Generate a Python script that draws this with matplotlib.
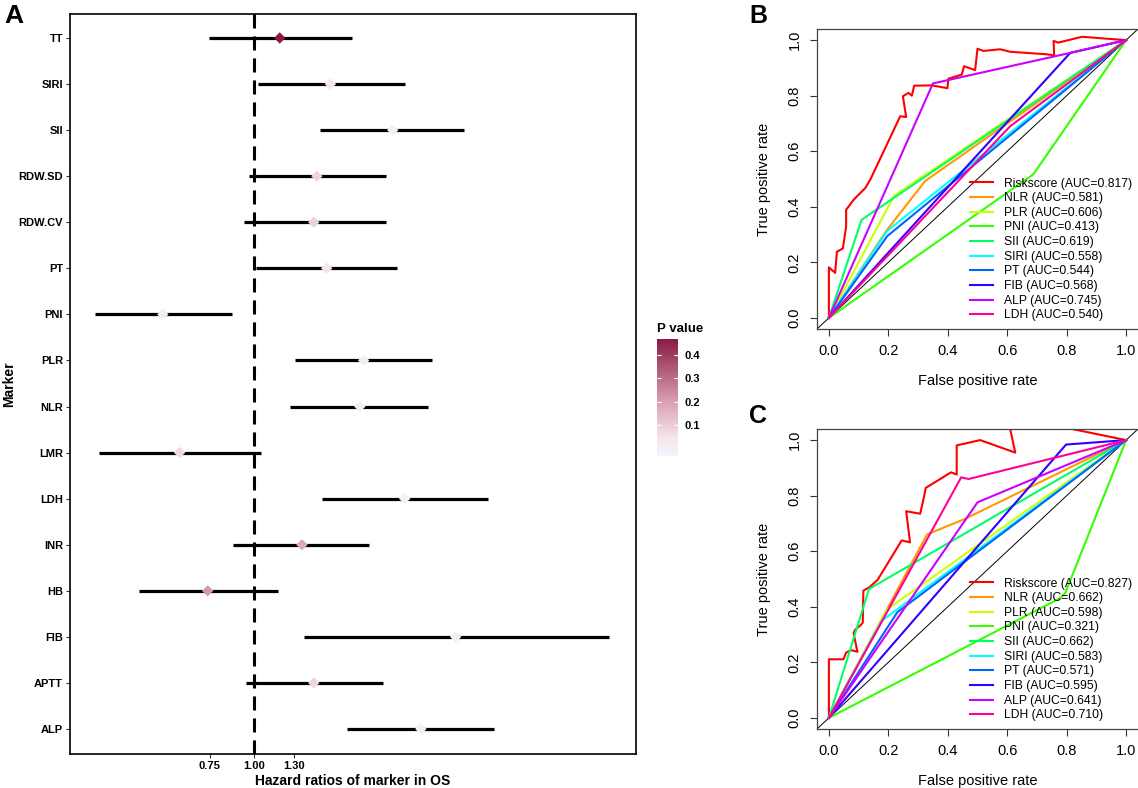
import numpy as np
import matplotlib
matplotlib.use("Agg")
import matplotlib.pyplot as plt
from matplotlib.colors import LinearSegmentedColormap

plt.rcParams['font.family'] = ['Liberation Sans', 'DejaVu Sans']

# ---------------- Panel A data (top to bottom as displayed) ----------------
markers = ["TT", "SIRI", "SII", "RDW.SD", "RDW.CV", "PT", "PNI", "PLR",
           "NLR", "LMR", "LDH", "INR", "HB", "FIB", "APTT", "ALP"]
hr = [1.185, 1.65, 2.48, 1.51, 1.48, 1.61, 0.552, 2.05,
      2.00, 0.616, 2.68, 1.37, 0.74, 3.74, 1.48, 2.98]
ci_low = [0.745, 1.03, 1.54, 0.968, 0.937, 1.013, 0.354, 1.31,
          1.27, 0.363, 1.56, 0.872, 0.471, 1.39, 0.949, 1.84]
ci_high = [1.90, 2.68, 3.95, 2.37, 2.37, 2.55, 0.866, 3.20,
           3.12, 1.05, 4.61, 2.13, 1.17, 10.2, 2.32, 4.80]
p_values = [0.47, 0.04, 0.0003, 0.08, 0.09, 0.045, 0.02, 0.002,
            0.002, 0.07, 0.0002, 0.18, 0.21, 0.007, 0.08, 0.0001]
hr_ticks = [0.75, 1.00, 1.30]

# ---------------- ROC data ----------------
roc_names = ["Riskscore", "NLR", "PLR", "PNI", "SII", "SIRI", "PT", "FIB", "ALP", "LDH"]
roc_colors = ['#FF0000', '#FF9900', '#CCFF00', '#33FF00', '#00FF66',
              '#00FFFF', '#0066FF', '#3300FF', '#CC00FF', '#FF0099']

auc_b = [0.817, 0.581, 0.606, 0.413, 0.619, 0.558, 0.544, 0.568, 0.745, 0.540]
fpr_b = {
    "Riskscore": [0, 0, 0.021, 0.027, 0.047, 0.058, 0.058, 0.083, 0.122, 0.139, 0.240, 0.260,
                  0.249, 0.268, 0.279, 0.287, 0.346, 0.399, 0.402, 0.447, 0.455, 0.492, 0.500,
                  0.520, 0.576, 0.610, 0.733, 0.758, 0.756, 0.772, 0.851, 0.890, 0.935, 1.0],
    "NLR": [0, 0.195, 0.324, 1],
    "PLR": [0, 0.22, 1],
    "PNI": [0, 0.688, 1],
    "SII": [0, 0.11, 1],
    "SIRI": [0, 0.197, 1],
    "PT": [0, 0.197, 1],
    "FIB": [0, 0.812, 1],
    "ALP": [0, 0.35, 0.812, 1],
    "LDH": [0, 0.61, 1],
}
tpr_b = {
    "Riskscore": [0, 0.182, 0.162, 0.238, 0.250, 0.329, 0.389, 0.425, 0.467, 0.497, 0.726, 0.723,
                  0.798, 0.810, 0.800, 0.836, 0.837, 0.827, 0.861, 0.876, 0.906, 0.892, 0.969,
                  0.961, 0.967, 0.958, 0.949, 0.945, 0.997, 0.991, 1.012, 1.009, 1.005, 1.0],
    "NLR": [0, 0.316, 0.493, 1],
    "PLR": [0, 0.44, 1],
    "PNI": [0, 0.517, 1],
    "SII": [0, 0.353, 1],
    "SIRI": [0, 0.314, 1],
    "PT": [0, 0.295, 1],
    "FIB": [0, 0.954, 1],
    "ALP": [0, 0.844, 0.954, 1],
    "LDH": [0, 0.69, 1],
}

auc_c = [0.827, 0.662, 0.598, 0.321, 0.662, 0.583, 0.571, 0.595, 0.641, 0.710]
fpr_c = {
    "Riskscore": [0, 0, 0.049, 0.058, 0.074, 0.096, 0.083, 0.088, 0.108, 0.114, 0.116, 0.137,
                  0.164, 0.245, 0.273, 0.260, 0.307, 0.318, 0.326, 0.411, 0.430, 0.430, 0.509,
                  0.627, 0.600, 0.660, 0.700, 1.0],
    "NLR": [0, 0.33, 0.397, 0.453, 1],
    "PLR": [0, 0.195, 1],
    "PNI": [0, 0.778, 0.795, 1],
    "SII": [0, 0.135, 1],
    "SIRI": [0, 0.178, 1],
    "PT": [0, 0.23, 1],
    "FIB": [0, 0.798, 1],
    "ALP": [0, 0.5, 1],
    "LDH": [0, 0.445, 0.47, 1],
}
tpr_c = {
    "Riskscore": [0, 0.211, 0.211, 0.235, 0.244, 0.238, 0.305, 0.317, 0.335, 0.343, 0.458, 0.471,
                  0.497, 0.639, 0.632, 0.744, 0.735, 0.786, 0.828, 0.884, 0.876, 0.981, 1.0,
                  0.955, 1.09, 1.10, 1.066, 1.0],
    "NLR": [0, 0.66, 0.69, 0.714, 1],
    "PLR": [0, 0.39, 1],
    "PNI": [0, 0.431, 0.449, 1],
    "SII": [0, 0.464, 1],
    "SIRI": [0, 0.35, 1],
    "PT": [0, 0.38, 1],
    "FIB": [0, 0.984, 1],
    "ALP": [0, 0.776, 1],
    "LDH": [0, 0.866, 0.86, 1],
}

W, H = 1138, 788
fig = plt.figure(figsize=(W / 100, H / 100), dpi=100)


def fx(px):
    return px / W


def fy(py):
    return 1 - py / H


# ---------------- Panel A ----------------
axA = fig.add_axes([fx(70), fy(754), fx(636) - fx(70), fy(14) - fy(754)])
n = len(markers)
ypos = np.arange(n)[::-1]
cmap = LinearSegmentedColormap.from_list(
    "pv", [(0.0, "#EEF6FD"), (0.15, "#F7E6EC"), (0.45, "#DBA3B5"), (1.0, "#8A1A44")], N=256)
axA.hlines(ypos, ci_low, ci_high, color='black', lw=2.3, zorder=2)
axA.axvline(1.0, color='black', lw=2.2, dashes=(4.6, 2.6), zorder=1)
sc = axA.scatter(hr, ypos, c=p_values, cmap=cmap, vmin=-0.035, vmax=0.47,
                 marker='D', s=34, edgecolors='none', zorder=3)
axA.set_xscale('log')
axA.set_xlim(0.301, 12.15)
axA.set_ylim(-0.543, n - 1 + 0.52)
axA.set_yticks(ypos)
axA.set_yticklabels(markers)
axA.set_xticks(hr_ticks)
axA.set_xticklabels([f"{t:.2f}" for t in hr_ticks])
axA.xaxis.set_minor_locator(matplotlib.ticker.NullLocator())
axA.tick_params(axis='both', length=3, width=0.8, labelsize=8, pad=2, color='#333333')
for lab in axA.get_xticklabels() + axA.get_yticklabels():
    lab.set_fontweight('bold')
for sp in axA.spines.values():
    sp.set_linewidth(1.2)
    sp.set_color('black')
axA.set_xlabel("Hazard ratios of marker in OS", fontsize=10, fontweight='bold', labelpad=2)
axA.set_ylabel("Marker", fontsize=10, fontweight='bold')
axA.yaxis.set_label_coords((16 - 70) / 566, 0.5)

# colorbar
cax = fig.add_axes([fx(657), fy(456), fx(678) - fx(657), fy(339) - fy(456)])
cb = fig.colorbar(sc, cax=cax)
cb.outline.set_visible(False)
cb.set_ticks([0.1, 0.2, 0.3, 0.4])
cb.set_ticklabels(["0.1", "0.2", "0.3", "0.4"])
cax.tick_params(axis='y', direction='in', color='white', length=3, width=0.8,
                left=True, right=True, labelsize=8, pad=5)
for lab in cax.get_yticklabels():
    lab.set_fontweight('bold')
cax.set_title("P value", fontsize=9.5, fontweight='bold', loc='left', pad=5)

fig.text(fx(14), fy(16), "A", ha='center', va='center', fontsize=19, fontweight='bold')


# ---------------- ROC panels ----------------
def roc_panel(rect, fprs, tprs, aucs, legend_top):
    ax = fig.add_axes(rect)
    ax.axline((0, 0), (1, 1), color='black', lw=0.7, zorder=1)
    for name, col, auc in zip(roc_names, roc_colors, aucs):
        ax.plot(fprs[name], tprs[name], color=col, lw=1.5, zorder=2,
                label=f"{name} (AUC={auc:.3f})")
    ax.set_xlim(-0.04, 1.04)
    ax.set_ylim(-0.04, 1.04)
    ticks = [0.0, 0.2, 0.4, 0.6, 0.8, 1.0]
    ax.set_xticks(ticks)
    ax.set_yticks(ticks)
    ax.set_xticklabels([f"{t:.1f}" for t in ticks])
    ax.set_yticklabels([f"{t:.1f}" for t in ticks], rotation=90, va='center')
    ax.tick_params(axis='both', length=5, width=0.8, labelsize=10.5, pad=6, color='#333333')
    for s in ['left', 'top', 'bottom']:
        ax.spines[s].set_color('#444444')
        ax.spines[s].set_linewidth(0.9)
    ax.spines['right'].set_visible(False)
    ax.set_xlabel("False positive rate", fontsize=10.5, labelpad=11)
    ax.set_ylabel("True positive rate", fontsize=10.5, labelpad=12)
    ax.legend(loc='upper left', bbox_to_anchor=(fx(970), fy(legend_top)),
              bbox_transform=fig.transFigure, frameon=False, fontsize=8.7,
              handlelength=1.9, handletextpad=0.9, labelspacing=0.22, borderpad=0,
              borderaxespad=0)
    return ax


roc_panel([fx(817), fy(329), 1 - fx(817), fy(29) - fy(329)], fpr_b, tpr_b, auc_b, 177.5)
roc_panel([fx(817), fy(729), 1 - fx(817), fy(429) - fy(729)], fpr_c, tpr_c, auc_c, 577.5)
fig.text(fx(758), fy(16), "B", ha='center', va='center', fontsize=18, fontweight='bold')
fig.text(fx(758), fy(416), "C", ha='center', va='center', fontsize=18, fontweight='bold')

fig.savefig("out.png", dpi=100)
